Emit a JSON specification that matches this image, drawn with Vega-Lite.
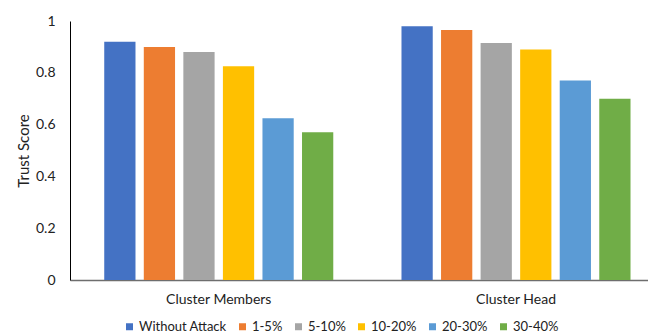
{
  "$schema": "https://vega.github.io/schema/vega-lite/v6.json",
  "width": 578,
  "height": 259,
  "autosize": {"type": "none"},
  "padding": {"left": 70, "top": 21, "right": 0, "bottom": 54},
  "config": {
    "font": "Lato",
    "view": {"stroke": null},
    "axis": {"labelColor": "#222222", "titleColor": "#222222"},
    "legend": {"labelColor": "#222222"}
  },
  "data": {
    "values": [
      {"group": "Cluster Members", "level": "Without Attack", "score": 0.92},
      {"group": "Cluster Members", "level": "1-5%", "score": 0.9},
      {"group": "Cluster Members", "level": "5-10%", "score": 0.88},
      {"group": "Cluster Members", "level": "10-20%", "score": 0.825},
      {"group": "Cluster Members", "level": "20-30%", "score": 0.625},
      {"group": "Cluster Members", "level": "30-40%", "score": 0.57},
      {"group": "Cluster Head", "level": "Without Attack", "score": 0.98},
      {"group": "Cluster Head", "level": "1-5%", "score": 0.965},
      {"group": "Cluster Head", "level": "5-10%", "score": 0.915},
      {"group": "Cluster Head", "level": "10-20%", "score": 0.89},
      {"group": "Cluster Head", "level": "20-30%", "score": 0.77},
      {"group": "Cluster Head", "level": "30-40%", "score": 0.7}
    ]
  },
  "mark": {"type": "bar"},
  "encoding": {
    "x": {
      "field": "group",
      "type": "nominal",
      "sort": ["Cluster Members", "Cluster Head"],
      "scale": {"paddingInner": 0.2295, "paddingOuter": 0.087, "align": 0.662},
      "axis": {
        "title": null,
        "labelAngle": 0,
        "ticks": false,
        "domainColor": "#6e6e6e",
        "domainWidth": 1.5,
        "labelFontSize": 14,
        "labelPadding": 12
      }
    },
    "xOffset": {
      "field": "level",
      "type": "nominal",
      "sort": ["Without Attack", "1-5%", "5-10%", "10-20%", "20-30%", "30-40%"],
      "scale": {"paddingInner": 0.21, "paddingOuter": 0}
    },
    "y": {
      "field": "score",
      "type": "quantitative",
      "scale": {"domain": [0, 1]},
      "axis": {
        "values": [0, 0.2, 0.4, 0.6, 0.8, 1],
        "format": ".1~f",
        "grid": false,
        "ticks": false,
        "domainColor": "#000000",
        "labelFontSize": 14,
        "labelPadding": 15,
        "title": "Trust Score",
        "titleFontWeight": "normal",
        "titleFontSize": 15,
        "titlePadding": 4
      }
    },
    "color": {
      "field": "level",
      "type": "nominal",
      "sort": ["Without Attack", "1-5%", "5-10%", "10-20%", "20-30%", "30-40%"],
      "scale": {
        "domain": ["Without Attack", "1-5%", "5-10%", "10-20%", "20-30%", "30-40%"],
        "range": ["#4472C4", "#ED7D31", "#A5A5A5", "#FFC000", "#5B9BD5", "#70AD47"]
      },
      "legend": {
        "orient": "none",
        "legendX": 53,
        "legendY": 299,
        "direction": "horizontal",
        "title": null,
        "symbolType": "square",
        "symbolSize": 49,
        "symbolStrokeWidth": 0,
        "labelFontSize": 13,
        "labelOffset": 3,
        "columnPadding": 9,
        "padding": 0
      }
    }
  }
}
